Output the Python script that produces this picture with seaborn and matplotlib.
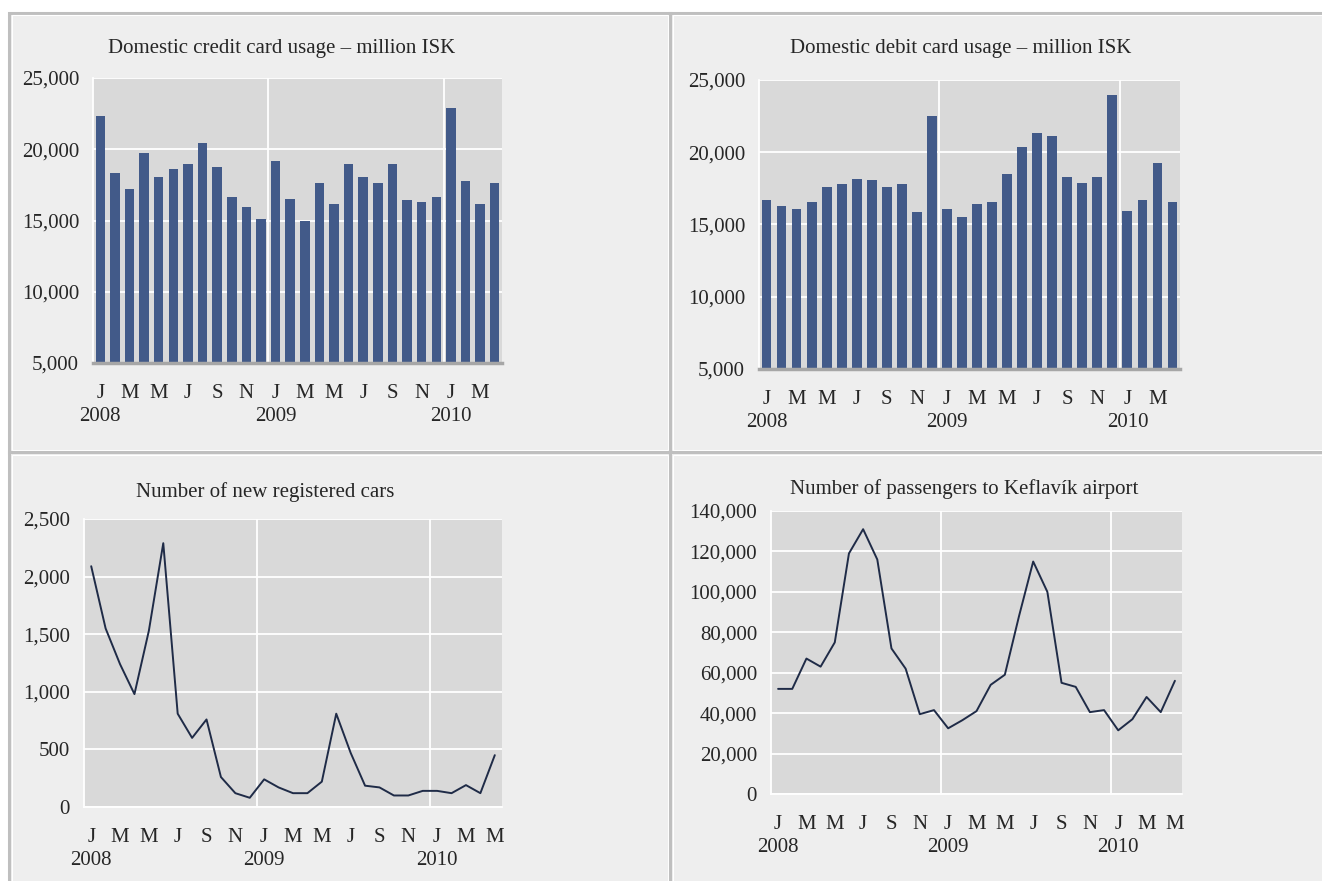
import numpy as np
import pandas as pd
import matplotlib
matplotlib.use('Agg')
import matplotlib.pyplot as plt
import seaborn as sns
from matplotlib.patches import Rectangle
from matplotlib.ticker import FuncFormatter

# Data (monthly, starting Jan 2008)
credit_card = [22300, 18350, 17230, 19770, 18080, 18640, 18940, 20470, 18780, 16670,
               15960, 15140, 19200, 16530, 15000, 17650, 16130, 18940, 18080, 17650,
               18940, 16410, 16270, 16670, 22890, 17790, 16130, 17650]
debit_card = [16670, 16260, 16100, 16530, 17620, 17780, 18170, 18060, 17620, 17780,
              15850, 22490, 16100, 15540, 16400, 16530, 18470, 20390, 21360, 21100,
              18310, 17900, 18310, 23980, 15960, 16670, 19280, 16530]
new_cars = [2090, 1550, 1240, 980, 1530, 2290, 810, 600, 760, 260,
            120, 80, 240, 170, 120, 120, 220, 810, 470, 185,
            170, 100, 100, 140, 140, 120, 190, 120, 450]
passengers = [52000, 52000, 67000, 63000, 75000, 119000, 131000, 116000, 72000, 62000,
              39500, 41500, 32500, 36500, 41000, 54000, 59000, 88000, 115000, 100000,
              55000, 53000, 40500, 41500, 31500, 37000, 48000, 40500, 56000]

month_letters = ['J', 'F', 'M', 'A', 'M', 'J', 'J', 'A', 'S', 'O', 'N', 'D']
titles = ['Domestic credit card usage \u2013 million ISK',
          'Domestic debit card usage \u2013 million ISK',
          'Number of new registered cars',
          'Number of passengers to Keflavík airport']

FIG_W, FIG_H = 1322, 881
BAR_COLOR = '#425a89'
LINE_COLOR = '#1f2b47'
PLOT_BG = '#d9d9d9'
PANEL_BG = '#eeeeee'
BORDER = '#bfbfbf'
FONT = 'Liberation Serif'
FS = 15


def px_box(left, top, right, bottom):
    return [left / FIG_W, 1 - bottom / FIG_H, (right - left) / FIG_W, (bottom - top) / FIG_H]


def month_labels(n):
    dates = pd.date_range('2008-01-01', periods=n, freq='MS')
    pos, labels = [], []
    for i, d in enumerate(dates):
        if i % 2:
            continue
        lab = month_letters[d.month - 1]
        if d.month == 1:
            lab += f'\n{d.year}'
        pos.append(i)
        labels.append(lab)
    return pos, labels


def style_axis(ax, n, ylim, yticks, bottom_color):
    ax.set_facecolor(PLOT_BG)
    ax.set_xlim(-0.5, n - 0.5)
    ax.set_ylim(*ylim)
    ax.set_yticks(yticks)
    ax.yaxis.set_major_formatter(FuncFormatter(lambda v, _: f'{v:,.0f}'))
    pos, labels = month_labels(n)
    ax.set_xticks(pos)
    ax.set_xticklabels(labels, linespacing=1.3)
    ax.tick_params(axis='x', length=0, pad=15, labelsize=FS)
    ax.tick_params(axis='y', length=0, pad=10, labelsize=FS)
    ax.grid(axis='y', color='white', lw=1.3)
    ax.grid(axis='x', visible=False)
    for b in (11.5, 23.5):
        ax.axvline(b, color='white', lw=1.3, zorder=0.5)
    ax.set_axisbelow(True)
    for s in ('top', 'right'):
        ax.spines[s].set_visible(False)
    ax.spines['left'].set_color('white')
    ax.spines['left'].set_linewidth(1.3)
    ax.spines['bottom'].set_color(bottom_color)
    ax.spines['bottom'].set_linewidth(2.5 if bottom_color != 'white' else 1.3)
    ax.set_xlabel('')
    ax.set_ylabel('')


sns.set_theme(style='white')
plt.rcParams['font.family'] = [FONT, 'DejaVu Serif']

fig = plt.figure(figsize=(FIG_W / 100, FIG_H / 100), dpi=100)
fig.patch.set_facecolor('white')

# panel backgrounds with grey frames
for (l, t, r, b) in [(9, 13, 670, 452), (670, 13, 1330, 452),
                     (9, 452, 670, 890), (670, 452, 1330, 890)]:
    fig.add_artist(Rectangle((l / FIG_W, 1 - b / FIG_H), (r - l) / FIG_W, (b - t) / FIG_H,
                             transform=fig.transFigure, facecolor=PANEL_BG,
                             edgecolor=BORDER, lw=2.2, zorder=0))
    fig.add_artist(Rectangle(((l + 2.5) / FIG_W, 1 - (b - 2.5) / FIG_H),
                             (r - l - 5) / FIG_W, (b - t - 5) / FIG_H,
                             transform=fig.transFigure, facecolor='none',
                             edgecolor='white', lw=0.8, zorder=0))

# top left: credit card
ax1 = fig.add_axes(px_box(93, 78, 502, 363))
idx = np.arange(len(credit_card))
sns.barplot(x=idx, y=credit_card, color=BAR_COLOR, saturation=1, width=0.65,
            errorbar=None, linewidth=0, ax=ax1)
style_axis(ax1, len(credit_card), (5000, 25000), range(5000, 25001, 5000), '#a6a6a6')

# top right: debit card
ax2 = fig.add_axes(px_box(759, 80, 1180, 369))
idx = np.arange(len(debit_card))
sns.barplot(x=idx, y=debit_card, color=BAR_COLOR, saturation=1, width=0.65,
            errorbar=None, linewidth=0, ax=ax2)
style_axis(ax2, len(debit_card), (5000, 25000), range(5000, 25001, 5000), '#a6a6a6')

# bottom left: new cars
ax3 = fig.add_axes(px_box(84, 519, 502, 807))
idx = np.arange(len(new_cars))
sns.lineplot(x=idx, y=new_cars, color=LINE_COLOR, lw=1.4, ax=ax3)
style_axis(ax3, len(new_cars), (0, 2500), range(0, 2501, 500), 'white')

# bottom right: passengers
ax4 = fig.add_axes(px_box(771, 511, 1182, 794))
idx = np.arange(len(passengers))
sns.lineplot(x=idx, y=passengers, color=LINE_COLOR, lw=1.4, ax=ax4)
style_axis(ax4, len(passengers), (0, 140000), range(0, 140001, 20000), 'white')

for (x, y), title in zip([(282, 49), (961, 49), (265, 492), (964, 489)], titles):
    fig.text(x / FIG_W, 1 - y / FIG_H, title, ha='center', va='center', fontsize=15)

fig.savefig('out.png', dpi=100, facecolor='white')
